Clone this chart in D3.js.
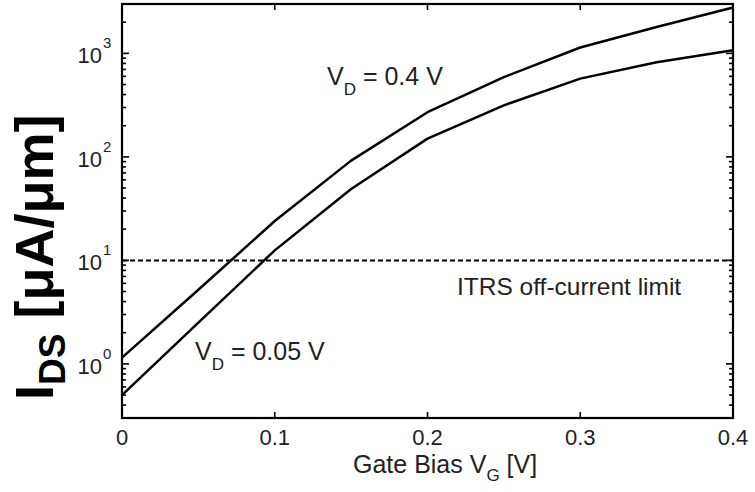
<!DOCTYPE html>
<html>
<head>
<meta charset="utf-8">
<script src="https://cdn.jsdelivr.net/npm/d3@7"></script>
<style>
  body { margin: 0; background: #fff; }
  svg { display: block; font-family: Arial, "Liberation Sans", sans-serif; }
</style>
</head>
<body>
<svg id="chart" width="755" height="492"></svg>
<script>
// gate bias values (V)
const gateBias = [0, 0.05, 0.1, 0.15, 0.2, 0.25, 0.3, 0.35, 0.4];
// drain current (uA/um) for the two drain biases
const idsHigh = [1.15, 5.2, 24, 92, 270, 590, 1140, 1800, 2780];
const idsLow = [0.5, 2.5, 12.5, 49, 150, 315, 570, 820, 1070];
const xTicks = [0, 0.1, 0.2, 0.3, 0.4];
const yTicks = [1, 10, 100, 1000];
const offLimit = 10;

const svg = d3.select('#chart');
const plotLeft = 122, plotRight = 733, plotTop = 4, plotBottom = 418;

const x = d3.scaleLinear().domain([0, 0.4]).range([plotLeft, plotRight]);
const y = d3.scaleLog().domain([0.3, 3000]).range([plotBottom, plotTop]);

// minor log ticks inside the domain
let minorTicks = [];
for (let e = -1; e <= 3; e++) {
  for (let m = 2; m <= 9; m++) {
    let v = m * Math.pow(10, e);
    if (v >= 0.3 && v <= 3000) minorTicks.push(v);
  }
}

let g = svg.append('g');

// dashed ITRS limit
g.append('line')
  .attr('x1', x(0)).attr('x2', x(0.4))
  .attr('y1', y(offLimit)).attr('y2', y(offLimit))
  .attr('stroke', '#000').attr('stroke-width', 2)
  .attr('stroke-dasharray', '5,3');

// straight segments between samples, like the original plot
let line = d3.line()
  .x((d, i) => x(gateBias[i]))
  .y(d => y(d));

[idsHigh, idsLow].forEach(series => {
  g.append('path')
    .attr('d', line(series))
    .attr('fill', 'none')
    .attr('stroke', '#000')
    .attr('stroke-width', 2.5)
    .attr('stroke-linejoin', 'round');
});

// ticks (inward, on all four sides)
let tickG = svg.append('g').attr('stroke', '#000').attr('stroke-width', 1.6);
xTicks.slice(1, -1).forEach(t => {
  tickG.append('line').attr('x1', x(t)).attr('x2', x(t)).attr('y1', plotBottom).attr('y2', plotBottom - 6);
  tickG.append('line').attr('x1', x(t)).attr('x2', x(t)).attr('y1', plotTop).attr('y2', plotTop + 6);
});
yTicks.forEach(t => {
  tickG.append('line').attr('x1', plotLeft).attr('x2', plotLeft + 7).attr('y1', y(t)).attr('y2', y(t));
  tickG.append('line').attr('x1', plotRight).attr('x2', plotRight - 7).attr('y1', y(t)).attr('y2', y(t));
});
minorTicks.forEach(t => {
  tickG.append('line').attr('x1', plotLeft).attr('x2', plotLeft + 4).attr('y1', y(t)).attr('y2', y(t));
  tickG.append('line').attr('x1', plotRight).attr('x2', plotRight - 4).attr('y1', y(t)).attr('y2', y(t));
});

// frame
svg.append('rect')
  .attr('x', plotLeft).attr('y', plotTop)
  .attr('width', plotRight - plotLeft).attr('height', plotBottom - plotTop)
  .attr('fill', 'none').attr('stroke', '#000').attr('stroke-width', 2.2);

const textColor = '#222';

// x tick labels
svg.selectAll('text.xtick').data(xTicks).enter()
  .append('text')
  .attr('class', 'xtick')
  .attr('x', d => x(d))
  .attr('y', 445)
  .attr('text-anchor', 'middle')
  .attr('font-size', 22)
  .attr('fill', textColor)
  .text(d => d === 0 ? '0' : d3.format('.1f')(d));

// y tick labels 10^n
yTicks.forEach(t => {
  svg.append('text')
    .attr('x', 102).attr('y', y(t) + 10)
    .attr('text-anchor', 'end')
    .attr('font-size', 22)
    .attr('fill', textColor)
    .text('10');
  svg.append('text')
    .attr('x', 103).attr('y', y(t) - 5)
    .attr('font-size', 15)
    .attr('fill', textColor)
    .text(Math.round(Math.log10(t)));
});

// x axis title
let xt = svg.append('text')
  .attr('x', 353).attr('y', 473)
  .attr('font-size', 25)
  .attr('fill', textColor);
xt.append('tspan').text('Gate Bias V');
xt.append('tspan').attr('font-size', 17).attr('dy', 8).text('G');
xt.append('tspan').attr('dy', -8).text(' [V]');

// y axis title
let yt = svg.append('text')
  .attr('transform', 'translate(53,400) rotate(-90)')
  .attr('font-size', 54)
  .attr('font-weight', 'bold')
  .attr('fill', '#000');
yt.append('tspan').text('I');
yt.append('tspan').attr('font-size', 37).attr('dy', 12).text('DS');
yt.append('tspan').attr('dy', -12).text(' [\u03bcA/\u03bcm]');

// curve annotations
function vdLabel(xp, yp, value) {
  let t = svg.append('text')
    .attr('x', xp).attr('y', yp)
    .attr('font-size', 25)
    .attr('fill', textColor);
  t.append('tspan').text('V');
  t.append('tspan').attr('font-size', 17).attr('dy', 10).text('D');
  t.append('tspan').attr('dy', -10).text(' = ' + value + ' V');
}
vdLabel(327, 85, '0.4');
vdLabel(195, 360, '0.05');

svg.append('text')
  .attr('x', 457).attr('y', 295)
  .attr('font-size', 24.5)
  .attr('fill', textColor)
  .text('ITRS off-current limit');
</script>
</body>
</html>
